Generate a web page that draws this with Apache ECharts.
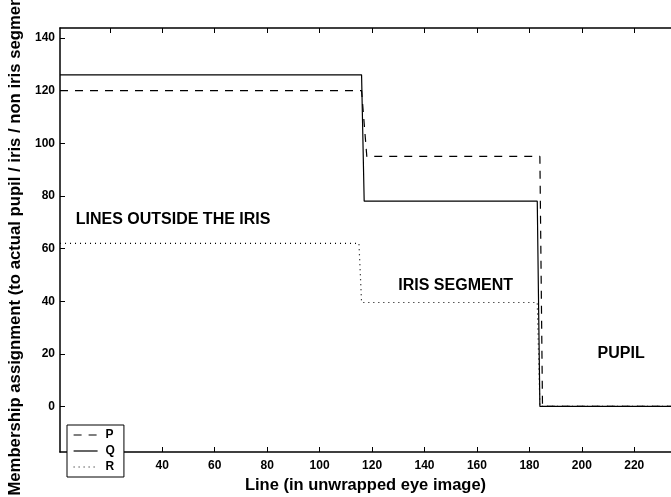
<!DOCTYPE html>
<html>
<head>
<meta charset="utf-8">
<script src="https://cdn.jsdelivr.net/npm/echarts@6/dist/echarts.min.js"></script>
<style>
html,body{margin:0;padding:0;background:#fff;}
#c{width:671px;height:497px;}
</style>
</head>
<body>
<div id="c"></div>
<script>
// Breakpoints of each step curve [line, membership]
const seriesP = [[1,120],[116,120],[118,95],[184,95],[185,0],[234,0]];
const seriesQ = [[1,126],[116,126],[117,78],[183,78],[184,0],[234,0]];
const seriesR = [[1,62],[115,62],[116,39.5],[183,39.5],[184,0],[234,0]];
const seriesNames = ['P','Q','R'];
const xTicks = [20,40,60,80,100,120,140,160,180,200,220];
const xLabels = [40,60,80,100,120,140,160,180,200,220];
const yTicks = [0,20,40,60,80,100,120,140];
const annotations = [
  {text:'LINES OUTSIDE THE IRIS', pos:[7,71]},
  {text:'IRIS SEGMENT', pos:[130,46]},
  {text:'PUPIL', pos:[206,20]}
];
const xTitle = 'Line (in unwrapped eye image)';
const yTitle = 'Membership assignment (to actual pupil / iris / non iris segments)';

const FONT = 'Liberation Sans, Arial, sans-serif';
const chart = echarts.init(document.getElementById('c'), null, {renderer:'canvas'});
const lineBase = {type:'line', symbol:'none', showSymbol:false, animation:false, z:3};
const dashP = [8,7], dotR = [1,4];
chart.setOption({
  animation:false,
  backgroundColor:'#fff',
  grid:{left:60, right:0, top:28, bottom:45, outerBoundsMode:'none', containLabel:false},
  xAxis:[{
    type:'value', min:1, max:234, position:'bottom',
    name:xTitle, nameLocation:'middle', nameGap:20,
    nameTextStyle:{fontFamily:FONT, fontWeight:'bold', fontSize:16.5, color:'#000'},
    axisLine:{show:true, onZero:false, lineStyle:{color:'#000', width:1.5}},
    axisTick:{show:true, inside:true, length:5, lineStyle:{color:'#000'}, customValues:xTicks},
    axisLabel:{fontFamily:FONT, fontWeight:'bold', fontSize:12, color:'#000', margin:8, customValues:xLabels},
    splitLine:{show:false}
  },{
    type:'value', min:1, max:234, position:'top',
    axisLine:{show:true, onZero:false, lineStyle:{color:'#000', width:1.5}},
    axisTick:{show:true, inside:true, length:5, lineStyle:{color:'#000'}, customValues:xTicks},
    axisLabel:{show:false},
    splitLine:{show:false}
  }],
  yAxis:{
    type:'value', min:-17.3, max:143.8,
    name:yTitle, nameLocation:'middle', nameGap:35, nameRotate:90,
    nameTextStyle:{fontFamily:FONT, fontWeight:'bold', fontSize:16.7, color:'#000', padding:[0,0,0,9]},
    axisLine:{show:true, onZero:false, lineStyle:{color:'#000', width:1.5}},
    axisTick:{show:true, inside:true, length:5, lineStyle:{color:'#000'}, customValues:yTicks},
    axisLabel:{fontFamily:FONT, fontWeight:'bold', fontSize:12, color:'#000', margin:5, customValues:yTicks},
    splitLine:{show:false}
  },
  legend:{
    data:[
      {name:seriesNames[0], itemStyle:{opacity:0}, lineStyle:{color:'#000', width:1.2, type:dashP}},
      {name:seriesNames[1], itemStyle:{opacity:0}, lineStyle:{color:'#000', width:1.2, type:'solid'}},
      {name:seriesNames[2], itemStyle:{opacity:0}, lineStyle:{color:'#000', width:1.2, type:dotR}}
    ],
    orient:'vertical', left:67, top:425,
    backgroundColor:'#fff', borderColor:'#000', borderWidth:1,
    padding:[4,9,4,6], itemGap:4, itemWidth:24, itemHeight:12,
    textStyle:{fontFamily:FONT, fontWeight:'bold', fontSize:12, color:'#000', padding:[0,0,0,3]},
    z:10
  },
  series:[
    Object.assign({}, lineBase, {name:seriesNames[0], data:seriesP, color:'#000',
      lineStyle:{color:'#000', width:1.2, type:dashP}}),
    Object.assign({}, lineBase, {name:seriesNames[1], data:seriesQ, color:'#000',
      lineStyle:{color:'#000', width:1.2, type:'solid'}}),
    Object.assign({}, lineBase, {name:seriesNames[2], data:seriesR, color:'#000',
      lineStyle:{color:'#000', width:1.2, type:dotR}}),
    {
      type:'scatter', name:'annotations', symbolSize:0, animation:false, silent:true,
      itemStyle:{opacity:1},
      data:annotations.map(a=>({value:a.pos, name:a.text})),
      label:{show:true, position:'right', distance:0, formatter:p=>p.name, opacity:1,
        fontFamily:FONT, fontWeight:'bold', fontSize:16, color:'#000'}
    }
  ]
});
</script>
</body>
</html>
